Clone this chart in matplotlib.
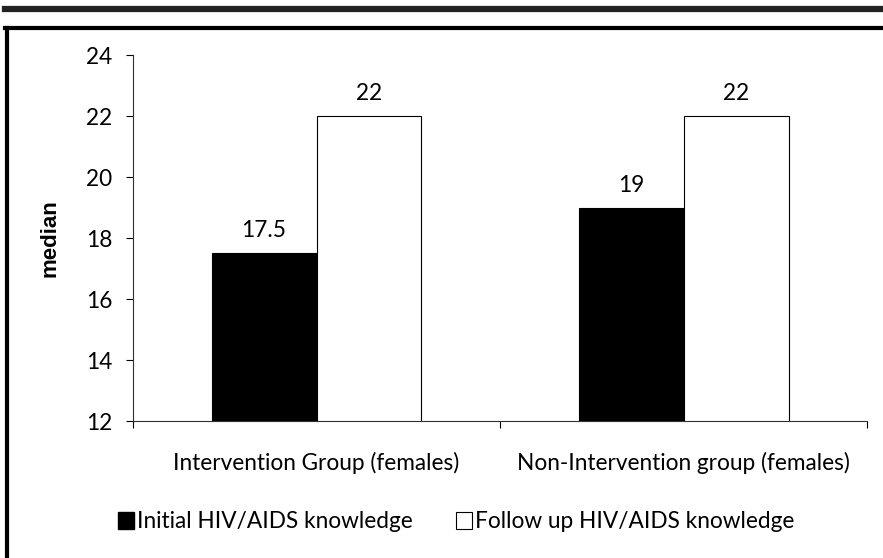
import matplotlib.pyplot as plt
from matplotlib.lines import Line2D
from matplotlib.patches import Patch

# data
groups = ['Intervention Group (females)', 'Non-Intervention group (females)']
initial = [17.5, 19]
follow_up = [22, 22]
series_names = ['Initial HIV/AIDS knowledge', 'Follow up HIV/AIDS knowledge']

plt.rcParams['font.family'] = ['Lato', 'DejaVu Sans']
fs = 16.3

fig = plt.figure(figsize=(8.83, 5.58), dpi=100)
ax = fig.add_axes([0.1506, 0.2455, 0.8314, 0.6559])

x = [0, 1]
w = 0.286
b1 = ax.bar([i - w / 2 for i in x], initial, w, bottom=0, color='black',
            edgecolor='black', linewidth=0.8)
b2 = ax.bar([i + w / 2 for i in x], follow_up, w, bottom=0, color='white',
            edgecolor='black', linewidth=0.8)

ax.set_ylim(12, 24)
ax.set_xlim(-0.5, 1.5)
ax.set_yticks(range(12, 25, 2))
ax.set_xticks([-0.5, 0.5, 1.5])
ax.set_xticklabels([])
ax.set_xticks(x, minor=True)
ax.set_xticklabels(groups, minor=True, fontsize=fs)
ax.tick_params(axis='x', which='minor', length=0, pad=22)
ax.tick_params(axis='x', which='major', length=5, direction='out')
ax.tick_params(axis='y', length=5, direction='out', labelsize=fs, pad=10)

for s in ['top', 'right']:
    ax.spines[s].set_visible(False)
for s in ['left', 'bottom']:
    ax.spines[s].set_color('#303030')

ax.set_ylabel('median', fontsize=16, fontweight='bold', labelpad=18,
              family=['Liberation Sans', 'DejaVu Sans'])

for bars, vals in [(b1, initial), (b2, follow_up)]:
    for r, v in zip(bars, vals):
        ax.annotate(f'{v:g}', (r.get_x() + r.get_width() / 2, v),
                    xytext=(0, 8.5), textcoords='offset points',
                    ha='center', va='bottom', fontsize=fs)

handles = [Patch(facecolor='black', edgecolor='black'),
           Patch(facecolor='white', edgecolor='black', linewidth=0.8)]
fig.legend(handles, series_names, loc='center', ncol=2,
           bbox_to_anchor=(456 / 883, 1 - 522 / 558), frameon=False,
           fontsize=fs, handlelength=0.7, handleheight=0.75,
           handletextpad=0.15, columnspacing=1.9)

# page frame around the chart
fig.add_artist(Line2D([5 / 883, 1], [1 - 9 / 558, 1 - 9 / 558],
                      transform=fig.transFigure, color='#222222', lw=4.5))
fig.add_artist(Line2D([5 / 883, 1], [1 - 28 / 558, 1 - 28 / 558],
                      transform=fig.transFigure, color='black', lw=3))
fig.add_artist(Line2D([7 / 883, 7 / 883], [0, 1 - 28 / 558],
                      transform=fig.transFigure, color='black', lw=3))

fig.savefig('out.png', dpi=100)
